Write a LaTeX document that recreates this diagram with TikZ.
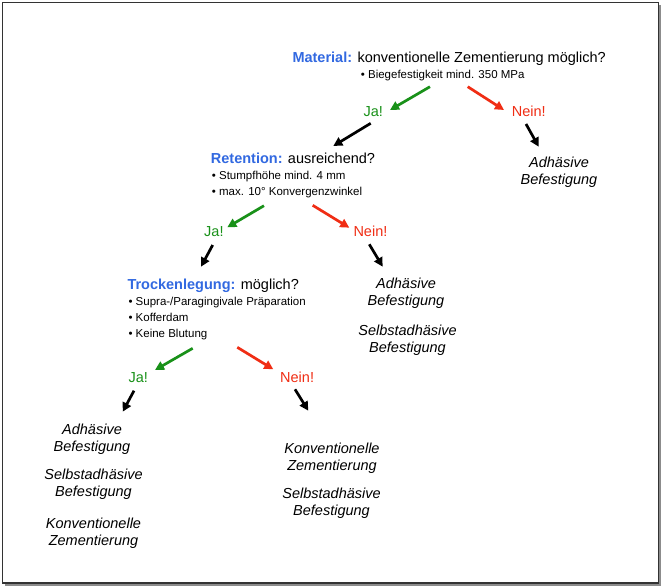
\documentclass[tikz,border=0pt]{standalone}
\usepackage{fontspec}
\setmainfont{Liberation Sans}
\usetikzlibrary{arrows.meta}
\definecolor{qblue}{RGB}{50,105,225}
\definecolor{jagreen}{RGB}{25,145,25}
\definecolor{neinred}{RGB}{240,45,20}
\begin{document}
\begin{tikzpicture}[x=1pt,y=-1pt,
  head/.style={anchor=base west, inner sep=0, font=\fontsize{14.5}{17}\selectfont},
  bul/.style={anchor=north west, inner sep=0, align=left, font=\fontsize{11.5}{16}\selectfont},
  ja/.style={anchor=base west, inner sep=0, text=jagreen, font=\fontsize{14.5}{17}\selectfont},
  nein/.style={anchor=base west, inner sep=0, text=neinred, font=\fontsize{14.5}{17}\selectfont},
  outcome/.style={anchor=north, inner sep=0, align=center, font=\fontsize{14.5}{17}\selectfont\itshape},
  arr/.style={line width=2.7pt, -{Triangle[length=9pt,width=9pt]}},
  garr/.style={arr, draw=jagreen},
  rarr/.style={arr, draw=neinred},
  karr/.style={arr, draw=black},
]
\useasboundingbox (0,0) rectangle (661,586);
% frame with shadow
\fill[black!45] (5,5) rectangle (660.5,585.5);
\filldraw[fill=white, draw=black!80, line width=1.2pt] (2.5,2.5) rectangle (658.5,583);

% Level 1
\node[head] (mat) at (292.3,62.5) {\textcolor{qblue}{\bfseries Material:} konventionelle Zementierung möglich?};
\node[bul] (matb) at (360.7,69.6) {• Biegefestigkeit mind. 350 MPa};
\node[ja] (ja1) at (363.3,116) {Ja!};
\node[nein] (nein1) at (511.7,116) {Nein!};
\node[outcome] (o1) at (559,156.3) {Adhäsive\\Befestigung};

\coordinate (g1s) at (430,86.7);  \coordinate (g1e) at (390,110);
\coordinate (r1s) at (467.7,86.7); \coordinate (r1e) at (504,110);
\coordinate (k1s) at (370.7,123.3); \coordinate (k1e) at (333.3,146);
\coordinate (k2s) at (526,124);  \coordinate (k2e) at (538.7,146.7);
\draw[garr] (g1s) -- (g1e);
\draw[rarr] (r1s) -- (r1e);
\draw[karr] (k1s) -- (k1e);
\draw[karr] (k2s) -- (k2e);

% Level 2
\node[head] (ret) at (210.7,163.3) {\textcolor{qblue}{\bfseries Retention:} ausreichend?};
\node[bul] (retb) at (211.7,170.6) {• Stumpfhöhe mind. 4 mm\\• max. 10° Konvergenzwinkel};
\node[ja] (ja2) at (204,236.7) {Ja!};
\node[nein] (nein2) at (353.3,236.7) {Nein!};
\node[outcome] (o2a) at (406,277.6) {Adhäsive\\Befestigung};
\node[outcome] (o2b) at (407.5,324.6) {Selbstadhäsive\\Befestigung};

\coordinate (g2s) at (264,205.7);  \coordinate (g2e) at (227.3,227.3);
\coordinate (r2s) at (312.7,205.3); \coordinate (r2e) at (349.3,227.7);
\coordinate (k3s) at (212.7,245);  \coordinate (k3e) at (201,266.7);
\coordinate (k4s) at (369.3,244.3); \coordinate (k4e) at (382.7,266.7);
\draw[garr] (g2s) -- (g2e);
\draw[rarr] (r2s) -- (r2e);
\draw[karr] (k3s) -- (k3e);
\draw[karr] (k4s) -- (k4e);

% Level 3
\node[head] (tro) at (127.3,289.3) {\textcolor{qblue}{\bfseries Trockenlegung:} möglich?};
\node[bul] (trob) at (128.3,296.6) {• Supra-/Paragingivale Präparation\\• Kofferdam\\• Keine Blutung};
\node[ja] (ja3) at (128.3,382.7) {Ja!};
\node[nein] (nein3) at (280,382.7) {Nein!};

\coordinate (g3s) at (192.7,348.3); \coordinate (g3e) at (155,370);
\coordinate (r3s) at (237.3,347.3); \coordinate (r3e) at (273.3,369.3);
\coordinate (k5s) at (134,390.7);  \coordinate (k5e) at (122.7,411.7);
\coordinate (k6s) at (295,389.3);  \coordinate (k6e) at (308.3,410.7);
\draw[garr] (g3s) -- (g3e);
\draw[rarr] (r3s) -- (r3e);
\draw[karr] (k5s) -- (k5e);
\draw[karr] (k6s) -- (k6e);

% Bottom outcomes
\node[outcome] (o3a) at (92,423.6) {Adhäsive\\Befestigung};
\node[outcome] (o3b) at (93.5,468.6) {Selbstadhäsive\\Befestigung};
\node[outcome] (o3c) at (93.5,517.6) {Konventionelle\\Zementierung};
\node[outcome] (o4a) at (332,442.6) {Konventionelle\\Zementierung};
\node[outcome] (o4b) at (331.5,487.6) {Selbstadhäsive\\Befestigung};
\end{tikzpicture}
\end{document}
